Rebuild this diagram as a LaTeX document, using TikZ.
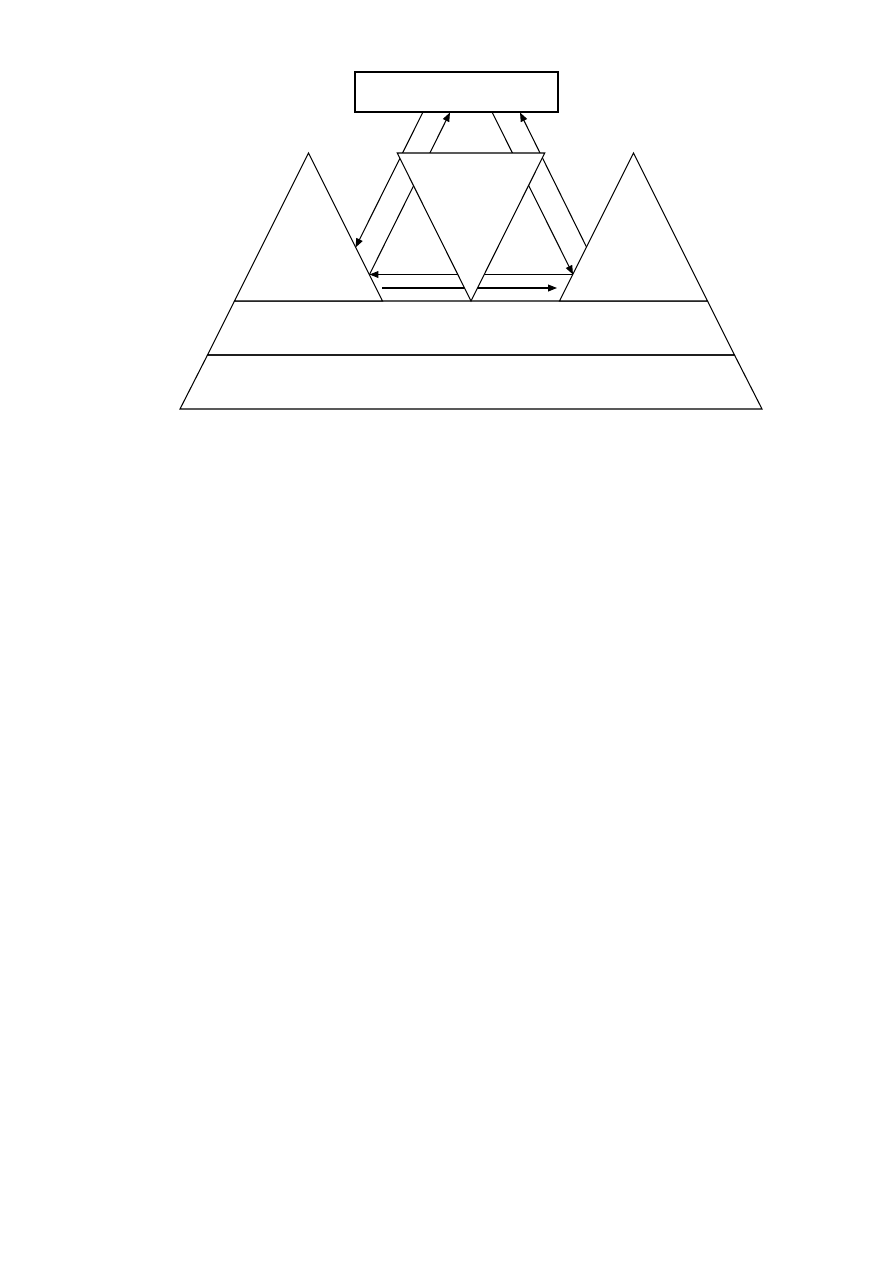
\documentclass[tikz,border=0pt]{standalone}
\usetikzlibrary{arrows.meta}

\begin{document}
\begin{tikzpicture}[x=0.023516cm,y=-0.023516cm,
  thinline/.style={black,line width=0.7pt,line join=miter},
  arr/.style={thinline,-{Triangle[length=6pt,width=4.6pt]}}]

\useasboundingbox (0,0) rectangle (893,1263);

% base layers
\coordinate (TL) at (234.5,301);
\coordinate (TR) at (707.5,301);
\coordinate (ML) at (207.5,355);
\coordinate (MR) at (734.5,355);
\coordinate (BL) at (180,409);
\coordinate (BR) at (762,409);

\draw[thinline] (TL)--(TR)--(MR)--(ML)--cycle;
\draw[thinline] (ML)--(MR)--(BR)--(BL)--cycle;

% side peaks
\coordinate (P) at (308.5,153);
\coordinate (Q) at (633.5,153);
\coordinate (PR) at (382.5,301);
\coordinate (QL) at (559.5,301);

\filldraw[thinline,fill=white] (TL)--(P)--(PR)--cycle;
\filldraw[thinline,fill=white] (QL)--(Q)--(TR)--cycle;

% top box
\coordinate (BoxA) at (355,72);
\coordinate (BoxB) at (558,112);
\draw[black,line width=1pt] (BoxA) rectangle (BoxB);

\coordinate (B1) at (423,112);
\coordinate (B2) at (450,112.5);
\coordinate (B3) at (492,112);
\coordinate (B4) at (520,112.5);
\coordinate (L1) at (355.5,247.5);
\coordinate (L2) at (369.5,274.5);
\coordinate (R2) at (573,274.5);
\coordinate (R1) at (586.5,247);
\coordinate (H1) at (382,288);
\coordinate (H2) at (557,288);

\draw[arr] (B1)--(L1);
\draw[arr] (L2)--(B2);
\draw[arr] (B3)--(R2);
\draw[arr] (R1)--(B4);
\draw[arr] (R2)--(L2);
\draw[arr] (H1)--(H2);

% middle triangle on top
\coordinate (U) at (397.25,153);
\coordinate (V) at (544.75,153);
\coordinate (W) at (471,301);
\filldraw[thinline,fill=white] (U)--(V)--(W)--cycle;

\end{tikzpicture}
\end{document}
